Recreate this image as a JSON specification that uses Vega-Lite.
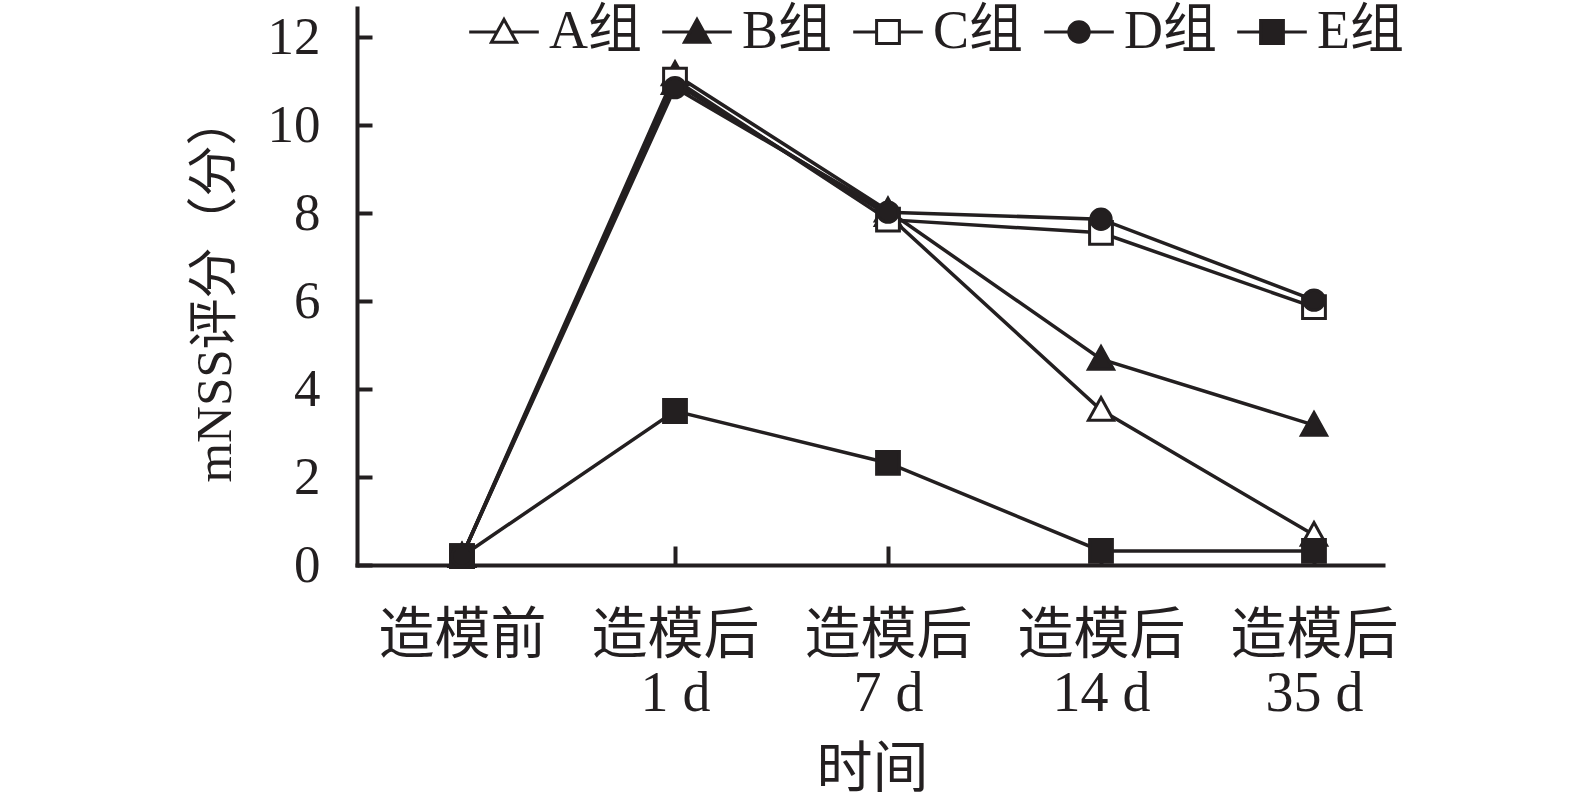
{
  "$schema": "https://vega.github.io/schema/vega-lite/v6.json",
  "width": 1026,
  "height": 557,
  "autosize": {"type": "none"},
  "padding": {"left": 357, "top": 8, "right": 192, "bottom": 233},
  "background": "white",
  "config": {
    "view": {"stroke": null},
    "font": "Liberation Serif, Noto Sans CJK SC",
    "axis": {
      "domainColor": "#231f20",
      "domainWidth": 4,
      "domainCap": "square",
      "tickColor": "#231f20",
      "tickWidth": 4,
      "grid": false,
      "labelColor": "#231f20",
      "titleColor": "#231f20",
      "labelFont": "Liberation Serif, Noto Sans CJK SC",
      "titleFont": "Liberation Serif, Noto Sans CJK SC",
      "titleFontWeight": "normal"
    }
  },
  "data": {
    "values": [
      {"group": "A组", "t": 1, "score": 0.2},
      {"group": "A组", "t": 2, "score": 10.95},
      {"group": "A组", "t": 3, "score": 7.95},
      {"group": "A组", "t": 4, "score": 3.52},
      {"group": "A组", "t": 5, "score": 0.68},
      {"group": "B组", "t": 1, "score": 0.2},
      {"group": "B组", "t": 2, "score": 11.15},
      {"group": "B组", "t": 3, "score": 8.05},
      {"group": "B组", "t": 4, "score": 4.68},
      {"group": "B组", "t": 5, "score": 3.18},
      {"group": "C组", "t": 1, "score": 0.2},
      {"group": "C组", "t": 2, "score": 11.03},
      {"group": "C组", "t": 3, "score": 7.85},
      {"group": "C组", "t": 4, "score": 7.55},
      {"group": "C组", "t": 5, "score": 5.86},
      {"group": "D组", "t": 1, "score": 0.2},
      {"group": "D组", "t": 2, "score": 10.85},
      {"group": "D组", "t": 3, "score": 8.02},
      {"group": "D组", "t": 4, "score": 7.86},
      {"group": "D组", "t": 5, "score": 6.02},
      {"group": "E组", "t": 1, "score": 0.2},
      {"group": "E组", "t": 2, "score": 3.5},
      {"group": "E组", "t": 3, "score": 2.32},
      {"group": "E组", "t": 4, "score": 0.32},
      {"group": "E组", "t": 5, "score": 0.32}
    ]
  },
  "encoding": {
    "x": {
      "field": "t",
      "type": "quantitative",
      "scale": {"domain": [0.507, 5.324], "nice": false, "zero": false},
      "axis": {
        "values": [1, 2, 3, 4, 5],
        "tickSize": -19,
        "labelFontSize": 56,
        "labelPadding": 62,
        "labelBaseline": "top",
        "labelLineHeight": 58,
        "labelExpr": "datum.value == 1 ? '造模前' : ['造模后', datum.value == 2 ? '1 d' : datum.value == 3 ? '7 d' : datum.value == 4 ? '14 d' : '35 d']",
        "title": "时间",
        "titleFontSize": 56,
        "titleBaseline": "middle",
        "titleX": 515,
        "titleY": 204
      }
    },
    "y": {
      "field": "score",
      "type": "quantitative",
      "scale": {"domain": [0, 12.66], "nice": false},
      "axis": {
        "values": [0, 2, 4, 6, 8, 10, 12],
        "tickSize": -15,
        "labelFontSize": 53,
        "labelPadding": 52,
        "title": "mNSS评分（分）",
        "titleFontSize": 51,
        "titleAngle": 270,
        "titleBaseline": "middle",
        "titleAlign": "center",
        "titleX": -142,
        "titleY": 280
      }
    }
  },
  "layer": [
    {
      "mark": {"type": "line", "stroke": "#231f20", "strokeWidth": 3.5},
      "encoding": {"detail": {"field": "group", "type": "nominal"}}
    },
    {
      "transform": [{"filter": "datum.group !== 'D组'"}],
      "mark": {"type": "point", "size": 576, "stroke": "#231f20", "strokeWidth": 3, "opacity": 1, "fillOpacity": 1},
      "encoding": {
        "shape": {
          "condition": {"test": "datum.group === 'A组' || datum.group === 'B组'", "value": "M0,-1.05L1.05,0.85L-1.05,0.85Z"},
          "value": "M-0.95,-0.95H0.95V0.95H-0.95Z"
        },
        "fill": {
          "condition": {"test": "datum.group === 'A组' || datum.group === 'C组'", "value": "white"},
          "value": "#231f20"
        }
      }
    },
    {
      "transform": [{"filter": "datum.group === 'D组'"}],
      "mark": {
        "type": "point",
        "size": 576,
        "stroke": "#231f20",
        "strokeWidth": 3,
        "opacity": 1,
        "fillOpacity": 1,
        "shape": {
          "expr": "datum.value === 'A组' || datum.value === 'B组' ? 'M-2.9,0H-0.58M0.58,0H2.9M0,-1.05L1.05,0.85L-1.05,0.85Z' : datum.value === 'D组' ? 'M-2.9,0H-0.85M0.85,0H2.9M-0.85,0A0.85,0.85,0,1,0,0.85,0A0.85,0.85,0,1,0,-0.85,0Z' : datum.value ? 'M-2.9,0H-0.95M0.95,0H2.9M-0.95,-0.95H0.95V0.95H-0.95Z' : 'M-0.85,0A0.85,0.85,0,1,0,0.85,0A0.85,0.85,0,1,0,-0.85,0Z'"
        }
      },
      "encoding": {
        "fill": {
          "field": "group",
          "type": "nominal",
          "scale": {
            "domain": ["A组", "B组", "C组", "D组", "E组"],
            "range": ["white", "#231f20", "white", "#231f20", "#231f20"]
          },
          "legend": {
            "title": null,
            "orient": "none",
            "direction": "horizontal",
            "legendX": 120,
            "legendY": -3,
            "symbolSize": 576,
            "symbolStrokeWidth": 3,
            "symbolStrokeColor": "#231f20",
            "labelFontSize": 54,
            "labelColor": "#231f20",
            "labelFont": "Liberation Serif, Noto Sans CJK SC",
            "labelOffset": 18,
            "columnPadding": 14,
            "encode": {
              "symbols": {
                "stroke": {"value": "#231f20"},
                "strokeWidth": {"value": 3}
              }
            }
          }
        }
      }
    }
  ]
}
